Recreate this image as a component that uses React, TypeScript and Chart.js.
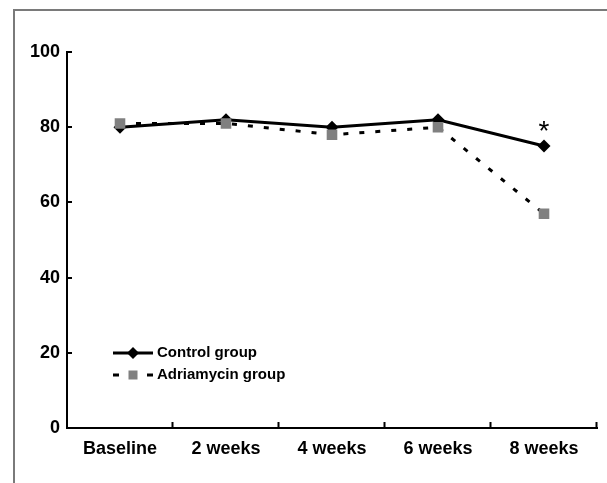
import React, { useEffect, useRef } from "react";
import { Chart, registerables } from "chart.js";

Chart.register(...registerables);

const categories = ["Baseline", "2 weeks", "4 weeks", "6 weeks", "8 weeks"];
const controlValues = [80, 82, 80, 82, 75];
const adriamycinValues = [81, 81, 78, 80, 57];
const significanceMarks = ["", "", "", "", "*"];
const seriesLabels = ["Control group", "Adriamycin group"];
const yMin = 0;
const yMax = 100;
const yStep = 20;

const FONT = '"Liberation Sans", Arial, sans-serif';
const GREY = "#808080";

const decorPlugin = {
  id: "decor",
  beforeDraw(chart: any) {
    const ctx = chart.ctx;
    ctx.save();
    ctx.strokeStyle = "#7a7a7a";
    ctx.lineWidth = 2;
    ctx.beginPath();
    ctx.moveTo(14, 483);
    ctx.lineTo(14, 10);
    ctx.lineTo(607, 10);
    ctx.stroke();
    ctx.restore();
  },
  afterDraw(chart: any) {
    const ctx = chart.ctx;
    const ys = chart.scales.y;
    const area = chart.chartArea;
    ctx.save();
    // inside tick marks
    ctx.strokeStyle = "#000";
    ctx.lineWidth = 2;
    ctx.beginPath();
    const n = categories.length;
    const w = (area.right - area.left) / n;
    for (let i = 1; i <= n; i++) {
      const x = Math.round(area.left + w * i) - 0.5;
      ctx.moveTo(x, area.bottom);
      ctx.lineTo(x, area.bottom - 6);
    }
    for (let v = yMin + yStep; v <= yMax; v += yStep) {
      const y = Math.round(ys.getPixelForValue(v));
      ctx.moveTo(area.left, y);
      ctx.lineTo(area.left + 5, y);
    }
    ctx.stroke();

    // significance marks
    const meta0 = chart.getDatasetMeta(0);
    ctx.fillStyle = "#000";
    ctx.font = '28px ' + FONT;
    ctx.textAlign = "center";
    ctx.textBaseline = "middle";
    significanceMarks.forEach((m, i) => {
      if (!m) return;
      const pt = meta0.data[i];
      ctx.fillText(m, pt.x, pt.y - 14);
    });

    // legend
    const lx0 = 113;
    const lx1 = 153;
    const lxm = 133;
    const ly0 = 353;
    const ly1 = 375;
    ctx.strokeStyle = "#000";
    ctx.lineWidth = 3;
    ctx.beginPath();
    ctx.moveTo(lx0, ly0);
    ctx.lineTo(lx1, ly0);
    ctx.stroke();
    ctx.beginPath();
    ctx.moveTo(lxm - 6, ly0);
    ctx.lineTo(lxm, ly0 - 6);
    ctx.lineTo(lxm + 6, ly0);
    ctx.lineTo(lxm, ly0 + 6);
    ctx.closePath();
    ctx.fillStyle = "#000";
    ctx.fill();

    ctx.beginPath();
    ctx.moveTo(lx0, ly1);
    ctx.lineTo(lx0 + 6, ly1);
    ctx.moveTo(lx1 - 6, ly1);
    ctx.lineTo(lx1, ly1);
    ctx.stroke();
    ctx.fillStyle = GREY;
    ctx.fillRect(lxm - 4.5, ly1 - 4.5, 9, 9);

    ctx.fillStyle = "#000";
    ctx.font = 'bold 15px ' + FONT;
    ctx.textAlign = "left";
    ctx.textBaseline = "middle";
    ctx.fillText(seriesLabels[0], 157, ly0);
    ctx.fillText(seriesLabels[1], 157, ly1);
    ctx.restore();
  },
};

export default function App() {
  const ref = useRef<HTMLCanvasElement | null>(null);
  useEffect(() => {
    if (!ref.current) return;
    const chart = new Chart(ref.current, {
      type: "line",
      data: {
        labels: categories,
        datasets: [
          {
            label: seriesLabels[0],
            data: controlValues,
            borderColor: "#000",
            backgroundColor: "#000",
            borderWidth: 3,
            pointStyle: "rectRot",
            pointRadius: 6.5,
            pointBorderWidth: 0,
            pointBackgroundColor: "#000",
            tension: 0,
            order: 1,
          },
          {
            label: seriesLabels[1],
            data: adriamycinValues,
            borderColor: "#000",
            backgroundColor: GREY,
            borderWidth: 3,
            borderDash: [5, 11],
            pointStyle: "rect",
            pointRadius: 7.5,
            pointBorderWidth: 0,
            pointBackgroundColor: GREY,
            tension: 0,
            order: 0,
          },
        ],
      },
      options: {
        responsive: false,
        animation: false,
        layout: { padding: { top: 52, right: 10, left: 0, bottom: 0 } },
        plugins: {
          legend: { display: false },
          tooltip: { enabled: false },
        },
        scales: {
          x: {
            offset: true,
            grid: { display: false, drawTicks: false },
            border: { display: true, color: "#000", width: 2 },
            ticks: {
              color: "#000",
              padding: 10,
              font: { family: FONT, size: 18, weight: "bold" },
              maxRotation: 0,
            },
            afterFit(scale: any) {
              scale.height = 55;
            },
          },
          y: {
            min: yMin,
            max: yMax,
            grid: { display: false, drawTicks: false },
            border: { display: true, color: "#000", width: 2 },
            ticks: {
              stepSize: yStep,
              color: "#000",
              padding: 7,
              font: { family: FONT, size: 18, weight: "bold" },
            },
            afterFit(scale: any) {
              scale.width = 67;
            },
          },
        },
      },
      plugins: [decorPlugin],
    });
    return () => chart.destroy();
  }, []);
  return (
    <div style={{ position: "absolute", left: 0, top: 0, width: 607, height: 483, background: "#fff" }}>
      <canvas ref={ref} width={607} height={483} style={{ width: 607, height: 483, display: "block" }} />
    </div>
  );
}
